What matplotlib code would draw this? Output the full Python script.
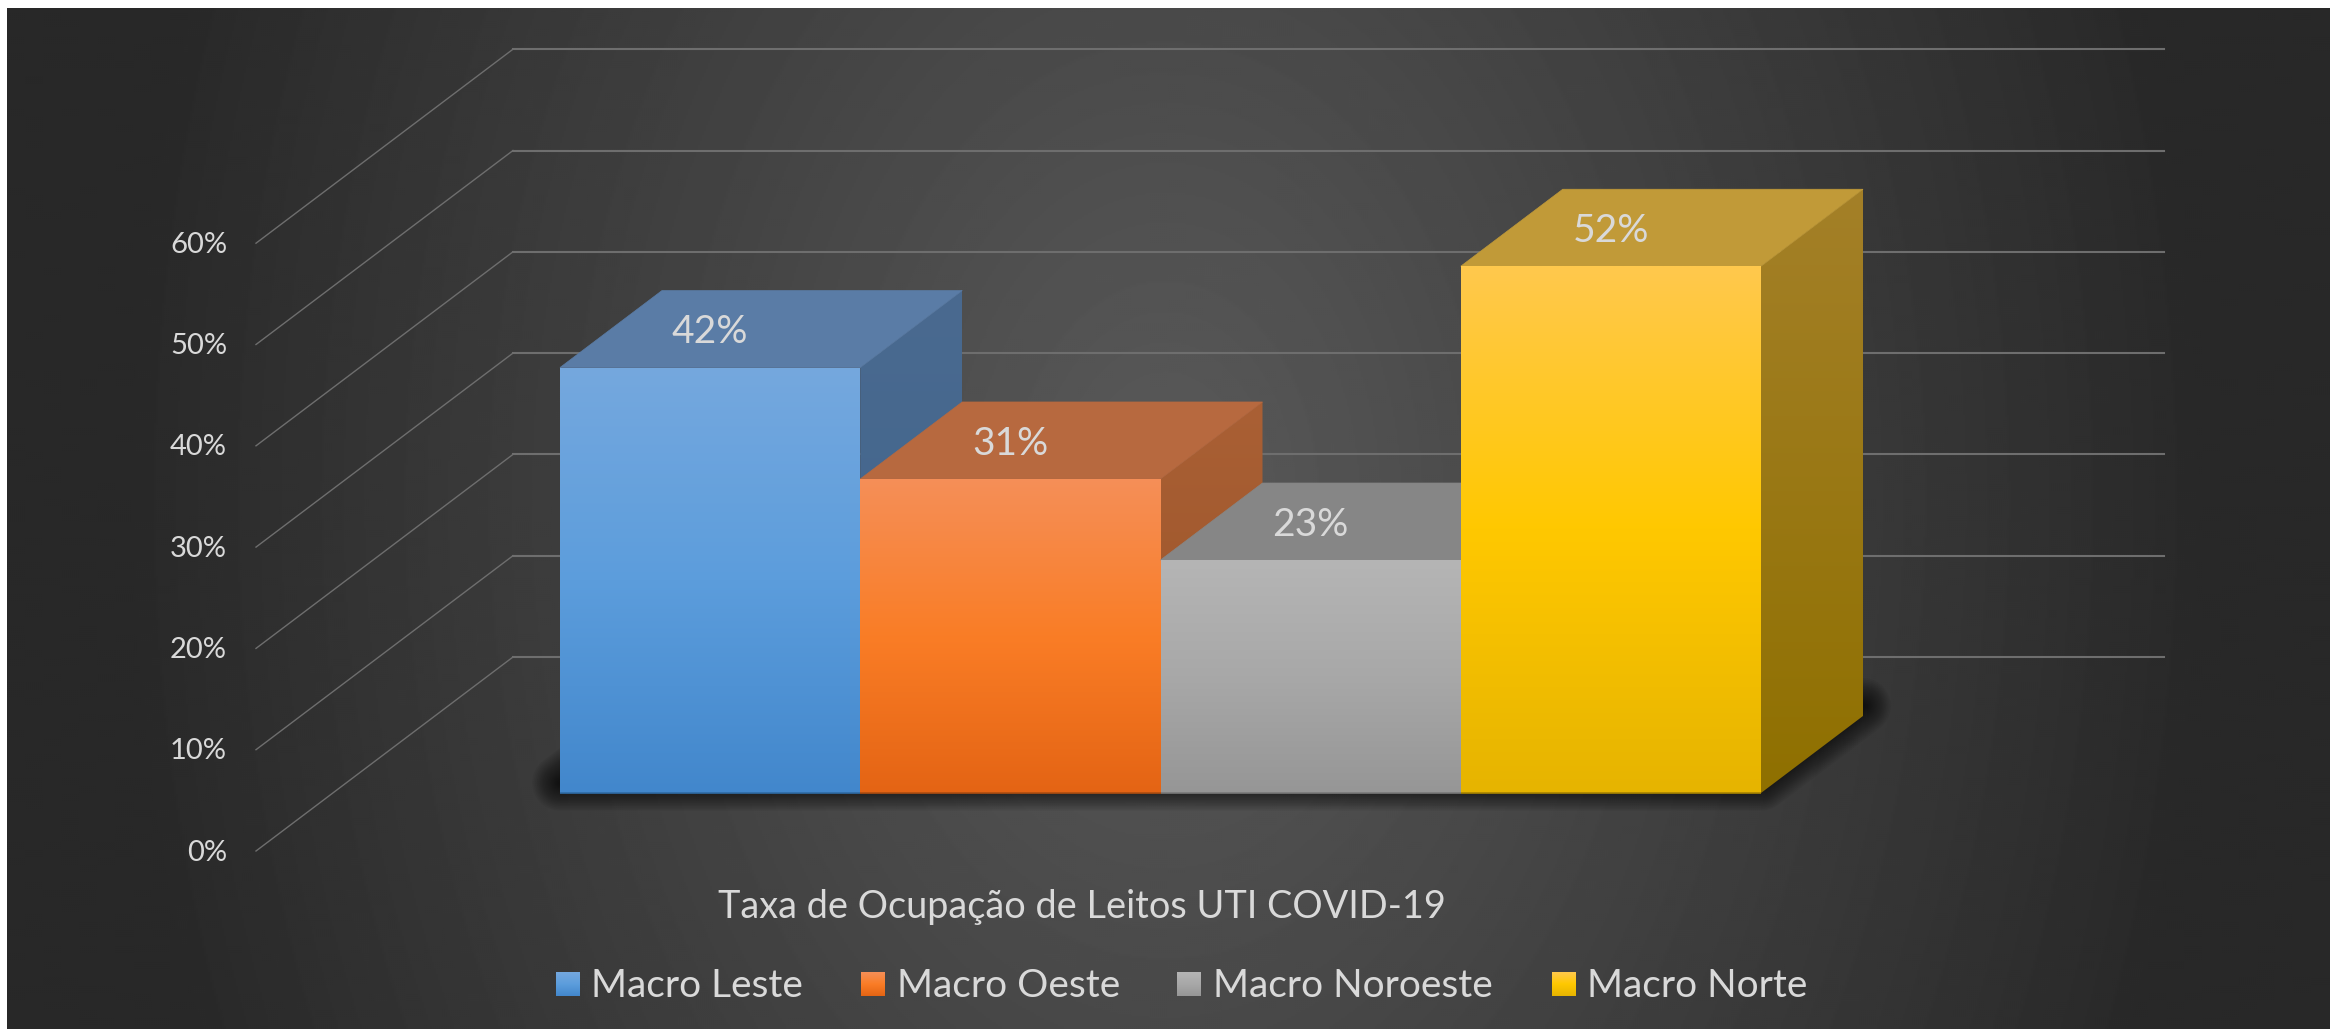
import matplotlib
matplotlib.use('Agg')
import matplotlib.pyplot as plt
from matplotlib.colors import LinearSegmentedColormap
from matplotlib.patches import Polygon
import numpy as np

# data
categories = ['Macro Leste', 'Macro Oeste', 'Macro Noroeste', 'Macro Norte']
values = [42, 31, 23, 52]
bar_labels = ['42%', '31%', '23%', '52%']
grid_levels = [0, 10, 20, 30, 40, 50, 60]
tick_labels = ['0%', '10%', '20%', '30%', '40%', '50%', '60%']
title = 'Taxa de Ocupação de Leitos UTI COVID-19'

# colours per bar: front stops, top face, side top/bottom
front_colors = [['#75a8de', '#5c9ddc', '#4287cc'],
                ['#f58f58', '#fa7d26', '#e46414'],
                ['#b5b5b5', '#a8a8a8', '#969696'],
                ['#ffc94d', '#ffc800', '#e6b400']]
top_colors = ['#5a7ca6', '#b7693f', '#868686', '#c19a38']
side_colors = [['#4a6a90', '#3f648b'], ['#aa6035', '#985226'],
               ['#707070', '#606060'], ['#a48028', '#8f7000']]
line_colors = ['#2f6ca6', '#b04e10', '#7a7a7a', '#a98500']

# layout in pixels of the 2330x1029 picture
W, H = 2330, 1029
X0, PX_X = 560, 300.25   # x=0 position, px per bar
Y0, PX_Y = 793, 10.13    # 0% position, px per percent


def to_x(p):
    return (p - X0) / PX_X


def to_y(p):
    return (Y0 - p) / PX_Y


depth_x, depth_y = 102 / PX_X, 77 / PX_Y
front_x, front_y = to_x(256), to_y(851)
back_x, back_y = to_x(513), to_y(657)
right_x = to_x(2164)

fig = plt.figure(figsize=(W / 100, H / 100), dpi=100, facecolor='white')
ax = fig.add_axes([0, 0, 1, 1])
ax.axis('off')
plt.rcParams['font.family'] = ['Lato', 'DejaVu Sans']
TXT = '#d9d9d9'


def grad_poly(verts, colors, z):
    verts = np.array(verts)
    cmap = LinearSegmentedColormap.from_list('g', colors)
    arr = np.linspace(0, 1, 256)[:, None]
    im = ax.imshow(arr, cmap=cmap, aspect='auto', zorder=z,
                   extent=[verts[:, 0].min(), verts[:, 0].max(),
                           verts[:, 1].min(), verts[:, 1].max()])
    im.set_clip_path(Polygon(verts, transform=ax.transData))
    return im


# background, radial gradient
yy, xx = np.mgrid[8:H:2, 7:W:2]
r = np.hypot((xx - 1165) / 1050, (yy - 500) / 1500)
shade = np.clip(0x5a - (0x5a - 0x28) * r, 0x28, 0x5a) / 255
ax.imshow(shade, cmap='gray', vmin=0, vmax=1, aspect='auto', zorder=0,
          extent=[to_x(7), to_x(W), to_y(H), to_y(8)])

# gridlines: floor diagonal then back wall
for lev in grid_levels:
    ax.plot([front_x, back_x], [front_y + lev, back_y + lev],
            color='#6e6e6e', lw=1.0, zorder=1)
    ax.plot([back_x, right_x], [back_y + lev, back_y + lev],
            color='#6e6e6e', lw=1.5, zorder=1)

for lev, lab in zip(grid_levels, tick_labels):
    ax.text(to_x(227), front_y + lev - 0.95, lab, ha='right', va='baseline',
            fontsize=21, color=TXT, zorder=6)

# shadow on the floor, soft and sitting a little behind the bars
n = len(values)
floor = [(0, 1), (n, 1), (n + depth_x, depth_y + 1), (depth_x, depth_y + 1)]
for lw in np.linspace(40, 2, 18):
    ax.add_patch(Polygon(floor, closed=True, fc='black', ec='black', lw=lw,
                         alpha=0.05, joinstyle='round', zorder=2))

# bars, left to right so each covers the side of the one before
for i, v in enumerate(values):
    z = 3 + i * 0.1
    x0, x1 = i, i + 1
    side = [(x1, 0), (x1 + depth_x, depth_y), (x1 + depth_x, v + depth_y), (x1, v)]
    grad_poly(side, side_colors[i], z)
    top = [(x0, v), (x1, v), (x1 + depth_x, v + depth_y), (x0 + depth_x, v + depth_y)]
    ax.add_patch(Polygon(top, closed=True, fc=top_colors[i], ec=top_colors[i],
                         lw=0.5, zorder=z))
    grad_poly([(x0, 0), (x1, 0), (x1, v), (x0, v)], front_colors[i], z + 0.01)
    ax.plot([x0, x1], [0, 0], color=line_colors[i], lw=1.2, zorder=z + 0.02,
            solid_capstyle='butt')
    ax.text(i + 0.5, v + depth_y / 2 - 1.4, bar_labels[i], ha='center', va='baseline',
            fontsize=28, color=TXT, zorder=6)

# title and legend
ax.text(to_x(1082), to_y(918), title, ha='center', va='baseline', fontsize=27.3,
        color=TXT, zorder=6)
swatch_px = [556, 861, 1177, 1552]
label_px = [591, 897, 1213, 1587]
for i, cat in enumerate(categories):
    l, r_ = to_x(swatch_px[i]), to_x(swatch_px[i] + 24)
    t, b = to_y(972), to_y(996)
    grad_poly([(l, b), (r_, b), (r_, t), (l, t)], front_colors[i], 6)
    ax.text(to_x(label_px[i]), to_y(997), cat, ha='left', va='baseline', fontsize=28,
            color=TXT, zorder=6)

ax.set_xlim(to_x(0), to_x(W))
ax.set_ylim(to_y(H), to_y(0))
fig.savefig('out.png', dpi=100, facecolor='white')
